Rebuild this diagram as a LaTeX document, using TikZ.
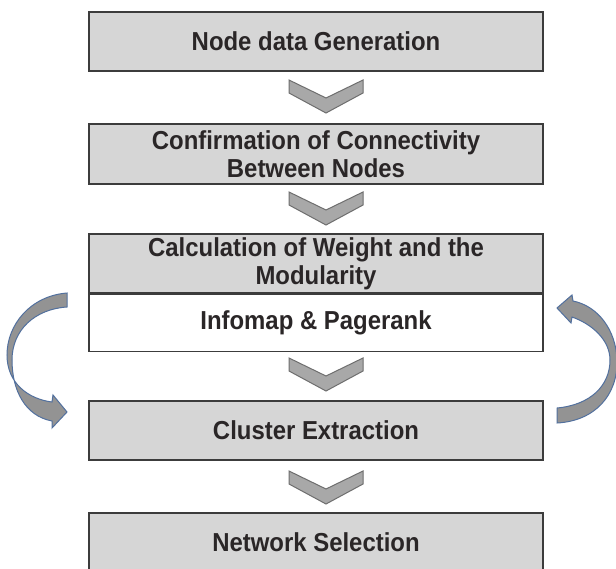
\documentclass[tikz,border=0pt]{standalone}
\usepackage{fontspec}
\newfontfamily\lblfont{Liberation Sans}[FakeStretch=0.92]
\definecolor{boxfill}{HTML}{D6D6D6}
\definecolor{boxline}{HTML}{3C3C3C}
\definecolor{chevfill}{HTML}{A8A8A8}
\definecolor{chevline}{HTML}{6E6E6E}
\definecolor{arrfill}{HTML}{939393}
\definecolor{arrline}{HTML}{52709E}
\definecolor{txt}{HTML}{2A2627}
\tikzset{
  stepbox/.style={draw=boxline, line width=1.3pt, fill=boxfill, minimum width=454pt,
    inner sep=0pt, align=center, text=txt,
    font=\lblfont\bfseries\fontsize{26pt}{28pt}\selectfont},
  whitebox/.style={stepbox, fill=white},
  chev/.style={draw=chevline, fill=chevfill, line width=1pt, line join=miter},
  loopar/.style={draw=arrline, fill=arrfill, line width=1pt, line join=miter}
}
\begin{document}
\begin{tikzpicture}[x=1pt,y=-1pt]
\useasboundingbox (0,0) rectangle (616,568);
\fill[white] (0,0) rectangle (616,568);
\begin{scope}
\clip (0,0) rectangle (616,568);
\node[stepbox, minimum height=59pt] (b1) at (316,41.5) {Node data Generation};
\node[stepbox, minimum height=60pt] (b2) at (316,154) {Confirmation of Connectivity\\Between Nodes};
\node[stepbox, minimum height=59pt] (b3) at (316,263.5) {Calculation of Weight and the\\Modularity};
\node[whitebox, minimum height=57pt, anchor=north] (b3b) at (b3.south) {Infomap \& Pagerank};
\node[stepbox, minimum height=59pt] (b4) at (316,430.5) {Cluster Extraction};
\node[stepbox, minimum height=59pt] (b5) at (316,542.5) {Network Selection};

% chevrons between the steps
\coordinate (c1) at (326,80);
\coordinate (c2) at (326,192);
\coordinate (c3) at (326,358);
\coordinate (c4) at (326,471);
\foreach \c in {c1,c2,c3,c4}{
  \draw[chev] (\c) ++(-37,0) -- ++(37,18) -- ++(37,-18) -- ++(0,13) -- ++(-37,20) -- ++(-37,-20) -- cycle;
}

% left curved arrow (from Infomap box down to Cluster Extraction)
\coordinate (la) at (67,293);
\draw[loopar] (la) .. controls (30,296) and (7,325) .. (7,355)
  .. controls (7,383) and (28,399) .. (52,402)
  -- (53,395) -- (67,412) -- (52,428) -- (52,421)
  .. controls (25,416) and (12,390) .. (12,360)
  .. controls (12,330) and (35,309) .. (67,307) -- cycle;

% right curved arrow (from Cluster Extraction up to Infomap box)
\coordinate (ra) at (557,423);
\draw[loopar] (ra) .. controls (595,421) and (618,395) .. (617,360)
  .. controls (616,330) and (598,306) .. (573,301)
  -- (572,295) -- (557,308) -- (571,323) -- (572,317)
  .. controls (592,324) and (610,340) .. (610,360)
  .. controls (610,386) and (590,405) .. (557,408) -- cycle;
\end{scope}
\end{tikzpicture}
\end{document}
